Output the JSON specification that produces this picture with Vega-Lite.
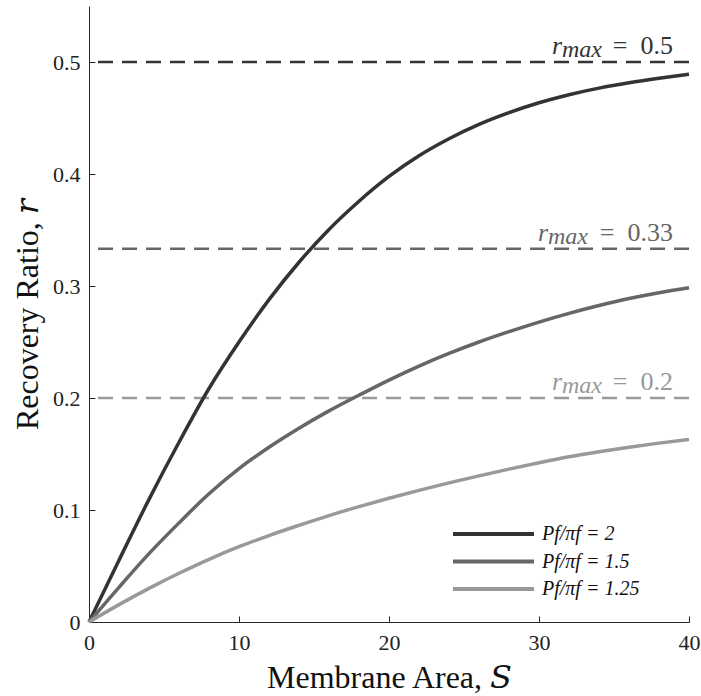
{
  "$schema": "https://vega.github.io/schema/vega-lite/v6.json",
  "width": 600,
  "height": 616,
  "autosize": {"type": "none"},
  "padding": {"left": 89, "top": 6, "right": 12, "bottom": 74},
  "background": "white",
  "config": {
    "view": {"stroke": null},
    "font": "Liberation Serif",
    "axis": {
      "grid": false,
      "domainColor": "#262626",
      "domainWidth": 1,
      "tickColor": "#262626",
      "tickWidth": 1,
      "tickSize": -6,
      "labelFlush": false,
      "labelFont": "Liberation Serif",
      "labelFontSize": 22,
      "labelColor": "#222222",
      "titleFont": "Liberation Serif, DejaVu Serif",
      "titleFontSize": 32,
      "titleFontWeight": "normal",
      "titleColor": "#111111"
    }
  },
  "datasets": {
    "curves": [
      {"S": 0, "r": 0, "series": "Pf/πf = 2"},
      {"S": 2, "r": 0.0552, "series": "Pf/πf = 2"},
      {"S": 4, "r": 0.1095, "series": "Pf/πf = 2"},
      {"S": 6, "r": 0.1605, "series": "Pf/πf = 2"},
      {"S": 8, "r": 0.2085, "series": "Pf/πf = 2"},
      {"S": 10, "r": 0.2500, "series": "Pf/πf = 2"},
      {"S": 12, "r": 0.2878, "series": "Pf/πf = 2"},
      {"S": 14, "r": 0.3212, "series": "Pf/πf = 2"},
      {"S": 16, "r": 0.3505, "series": "Pf/πf = 2"},
      {"S": 18, "r": 0.3757, "series": "Pf/πf = 2"},
      {"S": 20, "r": 0.3978, "series": "Pf/πf = 2"},
      {"S": 22, "r": 0.4163, "series": "Pf/πf = 2"},
      {"S": 24, "r": 0.4315, "series": "Pf/πf = 2"},
      {"S": 26, "r": 0.4443, "series": "Pf/πf = 2"},
      {"S": 28, "r": 0.4548, "series": "Pf/πf = 2"},
      {"S": 30, "r": 0.4636, "series": "Pf/πf = 2"},
      {"S": 32, "r": 0.4708, "series": "Pf/πf = 2"},
      {"S": 34, "r": 0.4767, "series": "Pf/πf = 2"},
      {"S": 36, "r": 0.4815, "series": "Pf/πf = 2"},
      {"S": 38, "r": 0.4855, "series": "Pf/πf = 2"},
      {"S": 40, "r": 0.4890, "series": "Pf/πf = 2"},
      {"S": 0, "r": 0, "series": "Pf/πf = 1.5"},
      {"S": 2, "r": 0.0310, "series": "Pf/πf = 1.5"},
      {"S": 4, "r": 0.0610, "series": "Pf/πf = 1.5"},
      {"S": 6, "r": 0.0885, "series": "Pf/πf = 1.5"},
      {"S": 8, "r": 0.1145, "series": "Pf/πf = 1.5"},
      {"S": 10, "r": 0.1370, "series": "Pf/πf = 1.5"},
      {"S": 12, "r": 0.1560, "series": "Pf/πf = 1.5"},
      {"S": 14, "r": 0.1730, "series": "Pf/πf = 1.5"},
      {"S": 16, "r": 0.1885, "series": "Pf/πf = 1.5"},
      {"S": 18, "r": 0.2025, "series": "Pf/πf = 1.5"},
      {"S": 20, "r": 0.2160, "series": "Pf/πf = 1.5"},
      {"S": 22, "r": 0.2285, "series": "Pf/πf = 1.5"},
      {"S": 24, "r": 0.2398, "series": "Pf/πf = 1.5"},
      {"S": 26, "r": 0.2500, "series": "Pf/πf = 1.5"},
      {"S": 28, "r": 0.2592, "series": "Pf/πf = 1.5"},
      {"S": 30, "r": 0.2678, "series": "Pf/πf = 1.5"},
      {"S": 32, "r": 0.2756, "series": "Pf/πf = 1.5"},
      {"S": 34, "r": 0.2826, "series": "Pf/πf = 1.5"},
      {"S": 36, "r": 0.2888, "series": "Pf/πf = 1.5"},
      {"S": 38, "r": 0.2940, "series": "Pf/πf = 1.5"},
      {"S": 40, "r": 0.2984, "series": "Pf/πf = 1.5"},
      {"S": 0, "r": 0, "series": "Pf/πf = 1.25"},
      {"S": 2, "r": 0.0155, "series": "Pf/πf = 1.25"},
      {"S": 4, "r": 0.0300, "series": "Pf/πf = 1.25"},
      {"S": 6, "r": 0.0435, "series": "Pf/πf = 1.25"},
      {"S": 8, "r": 0.0560, "series": "Pf/πf = 1.25"},
      {"S": 10, "r": 0.0672, "series": "Pf/πf = 1.25"},
      {"S": 12, "r": 0.0772, "series": "Pf/πf = 1.25"},
      {"S": 14, "r": 0.0863, "series": "Pf/πf = 1.25"},
      {"S": 16, "r": 0.0950, "series": "Pf/πf = 1.25"},
      {"S": 18, "r": 0.1030, "series": "Pf/πf = 1.25"},
      {"S": 20, "r": 0.1105, "series": "Pf/πf = 1.25"},
      {"S": 22, "r": 0.1175, "series": "Pf/πf = 1.25"},
      {"S": 24, "r": 0.1242, "series": "Pf/πf = 1.25"},
      {"S": 26, "r": 0.1305, "series": "Pf/πf = 1.25"},
      {"S": 28, "r": 0.1365, "series": "Pf/πf = 1.25"},
      {"S": 30, "r": 0.1422, "series": "Pf/πf = 1.25"},
      {"S": 32, "r": 0.1475, "series": "Pf/πf = 1.25"},
      {"S": 34, "r": 0.1520, "series": "Pf/πf = 1.25"},
      {"S": 36, "r": 0.1560, "series": "Pf/πf = 1.25"},
      {"S": 38, "r": 0.1597, "series": "Pf/πf = 1.25"},
      {"S": 40, "r": 0.1630, "series": "Pf/πf = 1.25"}
    ],
    "limits": [
      {"r": 0.5, "rest": "=\u20020.5", "series": "Pf/πf = 2"},
      {"r": 0.3333, "rest": "=\u20020.33", "series": "Pf/πf = 1.5"},
      {"r": 0.2, "rest": "=\u20020.2", "series": "Pf/πf = 1.25"}
    ]
  },
  "layer": [
    {
      "data": {"name": "limits"},
      "mark": {"type": "rule", "strokeDash": [15, 9], "strokeWidth": 2.5},
      "encoding": {
        "y": {"field": "r", "type": "quantitative"},
        "color": {"field": "series", "type": "nominal"}
      }
    },
    {
      "data": {"name": "limits"},
      "mark": {"type": "text", "align": "right", "baseline": "alphabetic", "dx": -16, "dy": -8, "fontSize": 26, "font": "Liberation Serif"},
      "encoding": {
        "x": {"datum": 40, "type": "quantitative"},
        "y": {"field": "r", "type": "quantitative"},
        "text": {"field": "rest", "type": "nominal"},
        "color": {"field": "series", "type": "nominal"}
      }
    },
    {
      "data": {"name": "limits"},
      "transform": [{"filter": "length(datum.rest) <= 5"}],
      "layer": [
        {
          "mark": {"type": "text", "align": "left", "baseline": "alphabetic", "dx": -137, "dy": -8, "fontSize": 26, "fontStyle": "italic", "font": "Liberation Serif", "text": "r"},
          "encoding": {
            "x": {"datum": 40, "type": "quantitative"},
            "y": {"field": "r", "type": "quantitative"},
            "color": {"field": "series", "type": "nominal"}
          }
        },
        {
          "mark": {"type": "text", "align": "left", "baseline": "alphabetic", "dx": -127, "dy": -5, "fontSize": 24, "fontStyle": "italic", "font": "Liberation Serif", "text": "max"},
          "encoding": {
            "x": {"datum": 40, "type": "quantitative"},
            "y": {"field": "r", "type": "quantitative"},
            "color": {"field": "series", "type": "nominal"}
          }
        }
      ]
    },
    {
      "data": {"name": "limits"},
      "transform": [{"filter": "length(datum.rest) > 5"}],
      "layer": [
        {
          "mark": {"type": "text", "align": "left", "baseline": "alphabetic", "dx": -151, "dy": -8, "fontSize": 26, "fontStyle": "italic", "font": "Liberation Serif", "text": "r"},
          "encoding": {
            "x": {"datum": 40, "type": "quantitative"},
            "y": {"field": "r", "type": "quantitative"},
            "color": {"field": "series", "type": "nominal"}
          }
        },
        {
          "mark": {"type": "text", "align": "left", "baseline": "alphabetic", "dx": -141, "dy": -5, "fontSize": 24, "fontStyle": "italic", "font": "Liberation Serif", "text": "max"},
          "encoding": {
            "x": {"datum": 40, "type": "quantitative"},
            "y": {"field": "r", "type": "quantitative"},
            "color": {"field": "series", "type": "nominal"}
          }
        }
      ]
    },
    {
      "data": {"name": "curves"},
      "mark": {"type": "line", "strokeWidth": 3.5, "interpolate": "monotone"},
      "encoding": {
        "x": {
          "field": "S", "type": "quantitative",
          "scale": {"domain": [0, 40], "nice": false},
          "axis": {"values": [0, 10, 20, 30, 40], "title": "Membrane Area, 𝑆", "labelPadding": 16, "titlePadding": 9}
        },
        "y": {
          "field": "r", "type": "quantitative",
          "scale": {"domain": [0, 0.55], "nice": false},
          "axis": {"values": [0, 0.1, 0.2, 0.3, 0.4, 0.5], "format": "~g", "title": "Recovery Ratio, 𝑟", "labelPadding": 15, "titlePadding": 8}
        },
        "color": {
          "field": "series", "type": "nominal",
          "scale": {"domain": ["Pf/πf = 2", "Pf/πf = 1.5", "Pf/πf = 1.25"], "range": ["#333333", "#666666", "#999999"]},
          "legend": {
            "orient": "none", "legendX": 362, "legendY": 515,
            "title": null, "padding": 0, "clipHeight": 26, "rowPadding": 1.5,
            "symbolType": "stroke", "symbolSize": 6561, "symbolStrokeWidth": 4,
            "labelFont": "Liberation Serif", "labelFontSize": 20, "labelFontStyle": "italic",
            "labelColor": "#111111", "labelOffset": 6
          }
        }
      }
    }
  ]
}
